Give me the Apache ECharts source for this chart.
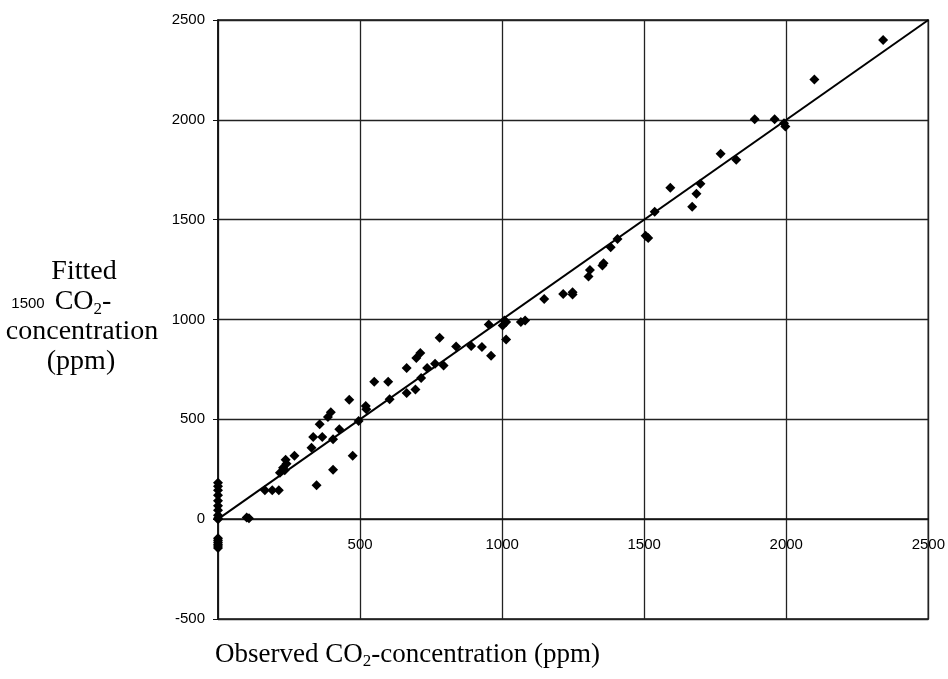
<!DOCTYPE html>
<html>
<head>
<meta charset="utf-8">
<script src="https://cdn.jsdelivr.net/npm/echarts@6/dist/echarts.min.js"></script>
<style>
html, body { margin: 0; padding: 0; background: #fff; }
#chart { width: 948px; height: 679px; }
</style>
</head>
<body>
<div id="chart"></div>
<script>
// observed vs fitted CO2 concentration (ppm)
var observed = [
  0, 0, 0, 0, 0, 0, 0, 0, 0, 0, 0, 0, 0, 0, 0, 0,
  101, 109, 165, 191, 214,
  218, 229, 235, 238, 241, 269,
  329, 335, 347, 358, 367, 387, 397, 405, 405, 427, 462, 474, 495, 520, 522,
  550, 599, 604, 664, 664, 695, 698, 712, 715, 736, 764, 780, 794,
  838, 891, 929, 953, 961, 1002, 1008, 1014, 1014, 1066, 1081,
  1148, 1215, 1248, 1248, 1304, 1309, 1353, 1357, 1382, 1406, 1505, 1514,
  1537, 1592, 1669, 1684, 1698, 1769, 1824, 1889, 1959, 1992, 1997, 2099, 2341
];
var fitted = [
  183, 165, 145, 120, 92, 67, 45, 20, 5, 0, -95, -105, -115, -125, -135, -145,
  8, 5, 145, 145, 145,
  232, 258, 245, 298, 278, 317,
  358, 412, 170, 475, 412, 512, 535, 400, 248, 450, 598, 317, 492, 567, 550,
  688, 688, 600, 757, 632, 650, 807, 832, 707, 757, 778, 908, 770,
  865, 867, 862, 975, 818, 970, 995, 987, 900, 987, 995,
  1103, 1128, 1137, 1125, 1215, 1248, 1270, 1282, 1362, 1403, 1420, 1408,
  1540, 1660, 1565, 1630, 1680, 1830, 1800, 2003, 2003, 1983, 1967, 2202, 2400
];
var lineX = [0, 2500];
var lineY = [0, 2500];
var xTicks = [0, 500, 1000, 1500, 2000, 2500];
var yTicks = [-500, 0, 500, 1000, 1500, 2000, 2500];

var points = observed.map(function (v, i) { return [v, fitted[i]]; });
var linePts = lineX.map(function (v, i) { return [v, lineY[i]]; });

var serif = '"Liberation Serif", "Times New Roman", serif';
var sans = '"Liberation Sans", Arial, sans-serif';
var plain = function (v) { return String(v); };

var chart = echarts.init(document.getElementById('chart'), null, {renderer: 'canvas'});
var option = {
  animation: false,
  backgroundColor: '#fff',
  grid: {
    left: 218, top: 20, right: 19, bottom: 60,
    show: true, borderColor: '#111', borderWidth: 1.5, backgroundColor: 'transparent'
  },
  xAxis: {
    type: 'value',
    position: 'bottom',
    offset: -100,   // x axis sits on the zero line, 100px above the bottom
    min: xTicks[0], max: xTicks[xTicks.length - 1], interval: 500,
    axisLine: { onZero: false, lineStyle: { color: '#111', width: 1.5 } },
    axisTick: { show: false },
    axisLabel: { color: '#000', fontFamily: sans, fontSize: 15, margin: 18, showMinLabel: false, formatter: plain },
    splitLine: { show: true, lineStyle: { color: '#222', width: 1.3 } }
  },
  yAxis: {
    type: 'value',
    min: yTicks[0], max: yTicks[yTicks.length - 1], interval: 500,
    axisLine: { show: true, lineStyle: { color: '#111', width: 1.5 } },
    axisTick: { show: true, length: 5, lineStyle: { color: '#111' } },
    axisLabel: { color: '#000', fontFamily: sans, fontSize: 15, margin: 13, formatter: plain },
    splitLine: { show: true, lineStyle: { color: '#222', width: 1.3 } }
  },
  series: [
    {
      type: 'line',
      data: linePts,
      showSymbol: false,
      lineStyle: { color: '#000', width: 2 },
      z: 3
    },
    {
      type: 'scatter',
      data: points,
      symbol: 'diamond',
      symbolSize: 10,
      itemStyle: { color: '#000', opacity: 1 },
      z: 4
    }
  ],
  graphic: [
    { type: 'text', x: 84, y: 272, style: { text: 'Fitted', fontFamily: serif, fontSize: 28, fill: '#000', align: 'center', verticalAlign: 'middle' } },
    { type: 'text', x: 83, y: 302, style: {
        text: '{a|CO}{s|2}{a|-}', fill: '#000', align: 'center', verticalAlign: 'middle',
        rich: {
          a: { fontFamily: serif, fontSize: 28, lineHeight: 32 },
          s: { fontFamily: serif, fontSize: 17, lineHeight: 32, padding: [15, 0, 0, 0] }
        } } },
    { type: 'text', x: 82, y: 332, style: { text: 'concentration', fontFamily: serif, fontSize: 28, fill: '#000', align: 'center', verticalAlign: 'middle' } },
    { type: 'text', x: 81, y: 362, style: { text: '(ppm)', fontFamily: serif, fontSize: 28, fill: '#000', align: 'center', verticalAlign: 'middle' } },
    { type: 'text', x: 28, y: 304, style: { text: '1500', fontFamily: sans, fontSize: 15, fill: '#000', align: 'center', verticalAlign: 'middle' } },
    { type: 'text', x: 215, y: 655, style: {
        text: '{a|Observed CO}{s|2}{a|-concentration (ppm)}', fill: '#000', align: 'left', verticalAlign: 'middle',
        rich: {
          a: { fontFamily: serif, fontSize: 27, lineHeight: 30 },
          s: { fontFamily: serif, fontSize: 17, lineHeight: 30, padding: [14, 0, 0, 0] }
        } } }
  ]
};
chart.setOption(option);
</script>
</body>
</html>
